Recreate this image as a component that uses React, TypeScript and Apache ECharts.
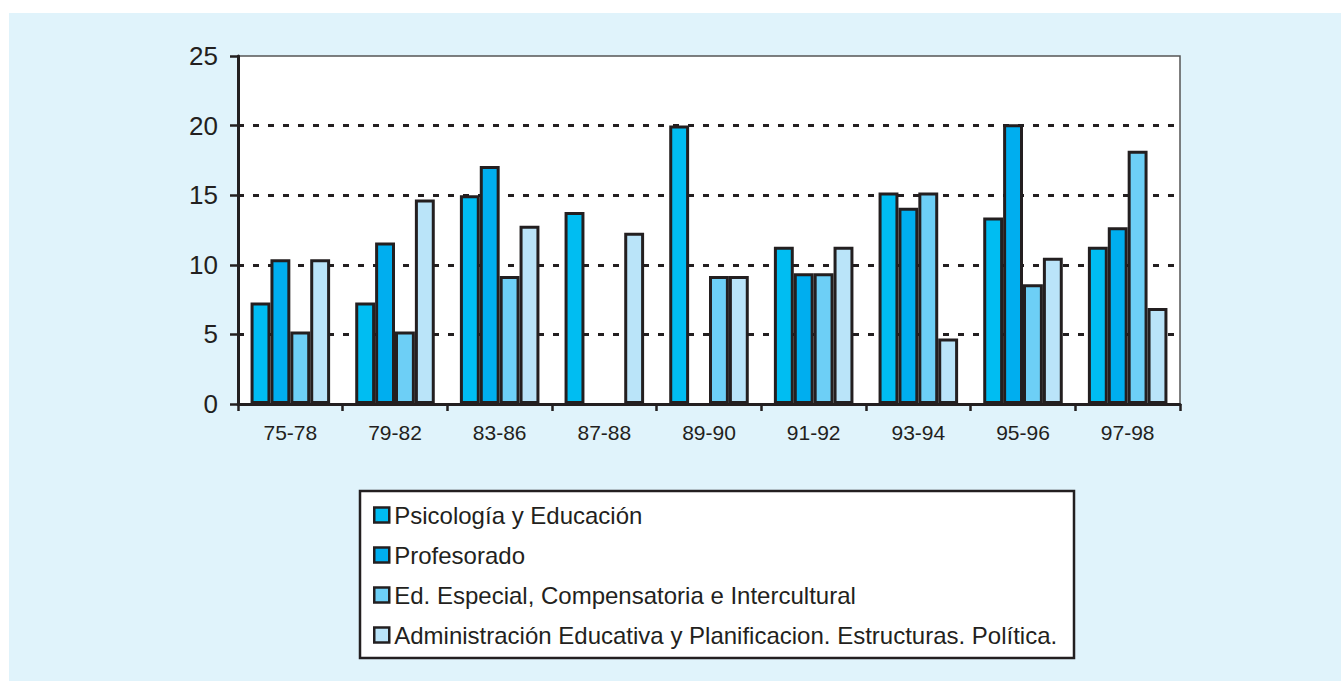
import React, { useEffect, useRef } from "react";
import * as echarts from "echarts";

const categories = ["75-78", "79-82", "83-86", "87-88", "89-90", "91-92", "93-94", "95-96", "97-98"];
const seriesNames = [
  "Psicología y Educación",
  "Profesorado",
  "Ed. Especial, Compensatoria e Intercultural",
  "Administración Educativa y Planificacion. Estructuras. Política.",
];
const psicologia = [7.3, 7.3, 15.0, 13.8, 20.0, 11.3, 15.2, 13.4, 11.3];
const profesorado = [10.4, 11.6, 17.1, null, null, 9.4, 14.1, 20.1, 12.7];
const edEspecial = [5.2, 5.2, 9.2, null, 9.2, 9.4, 15.2, 8.6, 18.2];
const administracion = [10.4, 14.7, 12.8, 12.3, 9.2, 11.3, 4.7, 10.5, 6.9];
const yTicks = { min: 0, max: 25, interval: 5 };

const colors = ["#00BDF2", "#00AEEF", "#6DCFF6", "#BAE4F9"];
const ink = "#231F20";
const font = "Liberation Sans";

export default function App() {
  const ref = useRef<HTMLDivElement>(null);
  useEffect(() => {
    if (!ref.current) return;
    const chart = echarts.init(ref.current, undefined, { renderer: "svg" });
    const values = [psicologia, profesorado, edEspecial, administracion];
    chart.setOption({
      animation: false,
      textStyle: { fontFamily: font, color: ink },
      grid: {
        left: 229,
        top: 43,
        right: 161,
        bottom: 277,
        show: true,
        backgroundColor: "#FFFFFF",
        borderColor: "#555555",
        borderWidth: 1.5,
      },
      graphic: [
        {
          type: "rect",
          shape: { x: 351, y: 478, width: 714, height: 167 },
          style: { fill: "#FFFFFF", stroke: ink, lineWidth: 2.5 },
          z: 0,
        },
      ],
      legend: {
        orient: "vertical",
        left: 364,
        top: 490,
        itemGap: 16,
        itemWidth: 15,
        itemHeight: 15,
        icon: "rect",
        padding: 0,
        z: 10,
        itemStyle: { borderColor: ink, borderWidth: 2.5 },
        textStyle: { fontSize: 24, color: ink, fontFamily: font },
        data: seriesNames,
      },
      xAxis: {
        type: "category",
        data: categories,
        boundaryGap: true,
        axisLine: { lineStyle: { color: ink, width: 3 } },
        axisTick: { show: true, length: 7, lineStyle: { color: ink, width: 2.5 } },
        axisLabel: { fontSize: 21, color: ink, margin: 18, fontFamily: font },
        splitLine: { show: false },
      },
      yAxis: {
        type: "value",
        min: yTicks.min,
        max: yTicks.max,
        interval: yTicks.interval,
        axisLine: { show: true, lineStyle: { color: ink, width: 3 } },
        axisTick: { show: true, length: 8, lineStyle: { color: ink, width: 2.5 } },
        axisLabel: { fontSize: 26, color: ink, margin: 20, fontFamily: font },
        splitLine: {
          show: true,
          showMinLine: false,
          showMaxLine: false,
          lineStyle: { color: ink, width: 3, type: [6, 9] },
        },
      },
      series: seriesNames.map((name, i) => ({
        name,
        type: "bar",
        data: values[i],
        barGap: "0%",
        barCategoryGap: "24%",
        itemStyle: { color: colors[i], borderColor: ink, borderWidth: 3 },
      })),
    });
    return () => chart.dispose();
  }, []);
  return (
    <div
      ref={ref}
      style={{
        position: "absolute",
        left: 9,
        top: 13,
        width: 1332,
        height: 668,
        background: "#E0F3FB",
      }}
    />
  );
}
